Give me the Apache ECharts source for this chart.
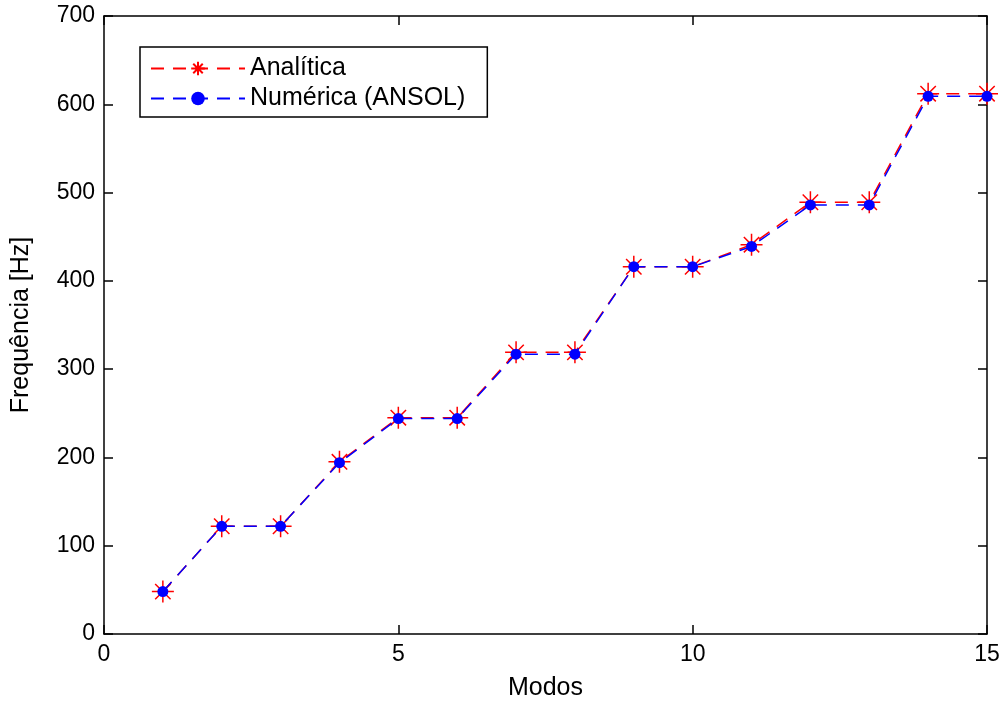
<!DOCTYPE html>
<html><head><meta charset="utf-8">
<script src="https://cdn.jsdelivr.net/npm/echarts@6/dist/echarts.min.js"></script>
<style>html,body{margin:0;padding:0;background:#fff}#c{width:1005px;height:702px}</style>
</head><body><div id="c"></div>
<script>
const modos = [1,2,3,4,5,6,7,8,9,10,11,12,13,14,15];
const analitica = [48,122,122,195,245,245,319,319,416,416,441,489,489,612,612];
const numerica = [48,122,122,194,244,244,317,317,416,416,439,486,486,609,609];
const xTicks = [0,5,10,15];
const yTicks = [0,100,200,300,400,500,600,700];

const star = 'path://M0,-10L0,10M-10,0L10,0M-7,-7L7,7M-7,7L7,-7';
const font = 'Liberation Sans';
const chart = echarts.init(document.getElementById('c'));
function axisCommon(){ return {
  axisLine:{show:true,onZero:false,lineStyle:{color:'#000',width:1.5}},
  axisTick:{show:true,inside:true,length:9,lineStyle:{color:'#000',width:1.5}},
  splitLine:{show:false}
};}
chart.setOption({
  animation:false,
  textStyle:{fontFamily:font},
  grid:{left:104,right:18,top:16,bottom:68,containLabel:false,outerBoundsMode:'none'},
  legend:{
    left:140, top:47, orient:'vertical',
    backgroundColor:'#fff', borderColor:'#000', borderWidth:1.5,
    padding:[9,22,6,10], itemGap:5, itemWidth:94, itemHeight:17,
    textStyle:{fontSize:25,color:'#000',fontFamily:font},
    data:['Analítica','Numérica (ANSOL)']
  },
  xAxis:[
    Object.assign({type:'value',min:0,max:15,interval:5,name:'Modos',nameLocation:'middle',nameGap:42,
      nameTextStyle:{fontSize:25,color:'#000',fontFamily:font},
      axisLabel:{fontSize:23,color:'#000',margin:9,fontFamily:font}},axisCommon()),
    Object.assign({type:'value',min:0,max:15,interval:5,position:'top',axisLabel:{show:false}},axisCommon())
  ],
  yAxis:[
    Object.assign({type:'value',min:0,max:700,interval:100,name:'Frequência [Hz]',nameLocation:'middle',nameGap:70,
      nameTextStyle:{fontSize:25,color:'#000',fontFamily:font},
      axisLabel:{fontSize:23,color:'#000',margin:9,fontFamily:font}},axisCommon()),
    Object.assign({type:'value',min:0,max:700,interval:100,position:'right',axisLabel:{show:false}},axisCommon())
  ],
  series:[
    {name:'Analítica',type:'line',data:modos.map((m,i)=>[m,analitica[i]]),
     symbol:star,symbolSize:22,showAllSymbol:true,
     itemStyle:{color:'#ff0000',borderColor:'#ff0000',borderWidth:1.5},
     lineStyle:{color:'#ff0000',width:1.5,type:[13,9]},z:2},
    {name:'Numérica (ANSOL)',type:'line',data:modos.map((m,i)=>[m,numerica[i]]),
     symbol:'circle',symbolSize:11,showAllSymbol:true,
     itemStyle:{color:'#0000ff',borderWidth:0},
     lineStyle:{color:'#0000ff',width:1.5,type:[13,9]},z:3}
  ]
});
</script></body></html>
